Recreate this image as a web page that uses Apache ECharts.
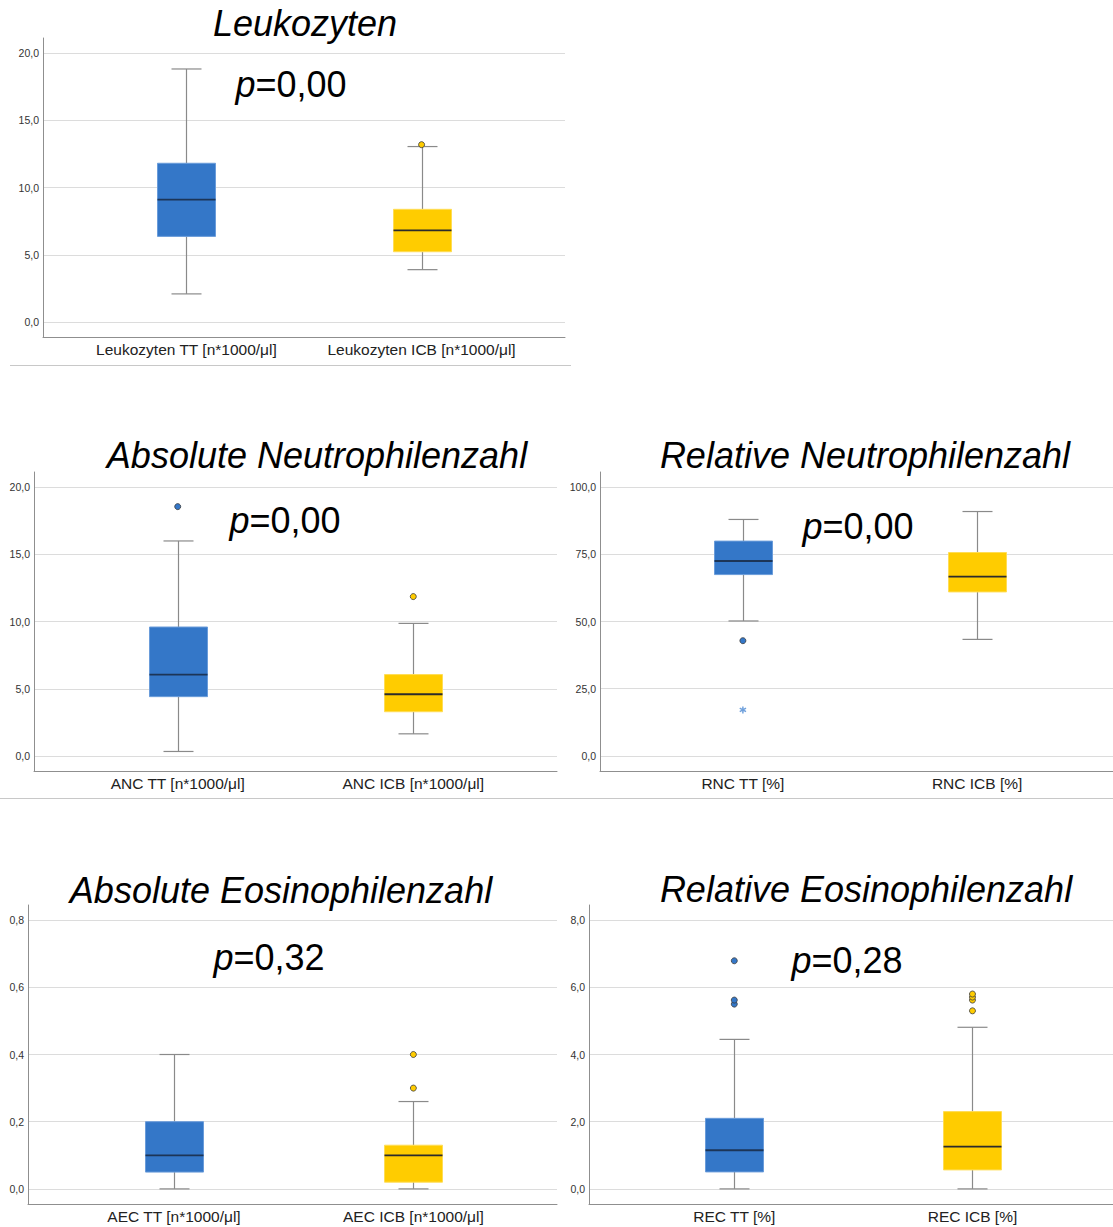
<!DOCTYPE html>
<html>
<head>
<meta charset="utf-8">
<script src="https://cdn.jsdelivr.net/npm/echarts@6/dist/echarts.min.js"></script>
<style>
  html, body { margin: 0; padding: 0; background: #fff; }
  #chart { width: 1113px; height: 1227px; }
</style>
</head>
<body>
<div id="chart"></div>
<script>
// ---------- DATA ----------
// box values: [lower whisker, Q1, median, Q3, upper whisker]
const leukoTitle = 'Leukozyten';
const leukoP = '0,00';
const leukoCats = ['Leukozyten TT [n*1000/μl]', 'Leukozyten ICB [n*1000/μl]'];
const leukoTT = [2.1, 6.37, 9.1, 11.8, 18.8];
const leukoICB = [3.9, 5.23, 6.82, 8.38, 13.04];
const leukoOutTT = [];
const leukoOutICB = [13.18];
const leukoTicks = [0, 5, 10, 15, 20];

const ancTitle = 'Absolute Neutrophilenzahl';
const ancP = '0,00';
const ancCats = ['ANC TT [n*1000/μl]', 'ANC ICB [n*1000/μl]'];
const ancTT = [0.35, 4.42, 6.06, 9.59, 15.98];
const ancICB = [1.66, 3.30, 4.60, 6.06, 9.86];
const ancOutTT = [18.53];
const ancOutICB = [11.85];
const ancTicks = [0, 5, 10, 15, 20];

const rncTitle = 'Relative Neutrophilenzahl';
const rncP = '0,00';
const rncCats = ['RNC TT [%]', 'RNC ICB [%]'];
const rncTT = [50.2, 67.45, 72.5, 79.9, 87.95];
const rncICB = [43.35, 61.0, 66.7, 75.65, 90.9];
const rncOutTT = [42.86];
const rncOutICB = [];
const rncExtremeTT = [17.1];
const rncTicks = [0, 25, 50, 75, 100];

const aecTitle = 'Absolute Eosinophilenzahl';
const aecP = '0,32';
const aecCats = ['AEC TT [n*1000/μl]', 'AEC ICB [n*1000/μl]'];
const aecTT = [0, 0.05, 0.10, 0.20, 0.40];
const aecICB = [0, 0.02, 0.10, 0.13, 0.26];
const aecOutTT = [];
const aecOutICB = [0.30, 0.40];
const aecTicks = [0, 0.2, 0.4, 0.6, 0.8];

const recTitle = 'Relative Eosinophilenzahl';
const recP = '0,28';
const recCats = ['REC TT [%]', 'REC ICB [%]'];
const recTT = [0, 0.505, 1.15, 2.10, 4.45];
const recICB = [0, 0.565, 1.26, 2.30, 4.81];
const recOutTT = [5.50, 5.62, 6.79];
const recOutICB = [5.30, 5.62, 5.71, 5.80];
const recTicks = [0, 2, 4, 6, 8];

// ---------- STYLE / LAYOUT ----------
const FONT = '"Liberation Sans", Arial, Helvetica, sans-serif';
const FILL = ['#3477C8', '#FFCC00'];
const EDGE = ['#6A9CDA', '#FFDD55'];
const MEDIAN = ['#1C3557', '#2b2b2b'];

const panels = [
  { title: leukoTitle, p: leukoP, cats: leukoCats, tt: leukoTT, icb: leukoICB, outTT: leukoOutTT, outICB: leukoOutICB, extTT: [], ticks: leukoTicks,
    left: 43, top: 38, width: 522, yMin: -1.1, yMax: 21.1, xMax: 1.61, titleX: 305, titleY: 23, pX: 291, pY: 84 },
  { title: ancTitle, p: ancP, cats: ancCats, tt: ancTT, icb: ancICB, outTT: ancOutTT, outICB: ancOutICB, extTT: [], ticks: ancTicks,
    left: 34, top: 472, width: 523, yMin: -1.1, yMax: 21.1, xMax: 1.61, titleX: 317, titleY: 455, pX: 285, pY: 520 },
  { title: rncTitle, p: rncP, cats: rncCats, tt: rncTT, icb: rncICB, outTT: rncOutTT, outICB: rncOutICB, extTT: rncExtremeTT, ticks: rncTicks,
    left: 600, top: 472, width: 513, yMin: -5.6, yMax: 105.6, xMax: 1.58, titleX: 865, titleY: 455, pX: 858, pY: 526 },
  { title: aecTitle, p: aecP, cats: aecCats, tt: aecTT, icb: aecICB, outTT: aecOutTT, outICB: aecOutICB, extTT: [], ticks: aecTicks,
    left: 28, top: 905, width: 529, yMin: -0.045, yMax: 0.845, xMax: 1.60, titleX: 281, titleY: 890, pX: 269, pY: 957 },
  { title: recTitle, p: recP, cats: recCats, tt: recTT, icb: recICB, outTT: recOutTT, outICB: recOutICB, extTT: [], ticks: recTicks,
    left: 589, top: 905, width: 524, yMin: -0.45, yMax: 8.45, xMax: 1.59, titleX: 866, titleY: 889, pX: 847, pY: 960 }
];
const GRID_H = 299;
const BOX_HALF = 29;
const CAP_HALF = 15;

const fmt = v => v.toFixed(1).replace('.', ',');

const ASTERISK = 'path://M-1,-5L1,-5L1,5L-1,5Z M3.83,-3.37L4.83,-1.63L-3.83,3.37L-4.83,1.63Z M4.83,1.63L3.83,3.37L-4.83,-1.63L-3.83,-3.37Z';

function renderBox(params, api) {
  const x = api.value(0);
  const lo = api.coord([x, api.value(1)]);
  const q1 = api.coord([x, api.value(2)]);
  const md = api.coord([x, api.value(3)]);
  const q3 = api.coord([x, api.value(4)]);
  const hi = api.coord([x, api.value(5)]);
  const cx = Math.round(lo[0]) + 0.5;
  const i = params.dataIndex;
  const wStyle = { stroke: '#8a8a8a', lineWidth: 1.2 };
  return {
    type: 'group',
    children: [
      { type: 'line', shape: { x1: cx, y1: lo[1], x2: cx, y2: q1[1] }, style: wStyle },
      { type: 'line', shape: { x1: cx, y1: q3[1], x2: cx, y2: hi[1] }, style: wStyle },
      { type: 'line', shape: { x1: cx - CAP_HALF, y1: lo[1], x2: cx + CAP_HALF, y2: lo[1] }, style: wStyle },
      { type: 'line', shape: { x1: cx - CAP_HALF, y1: hi[1], x2: cx + CAP_HALF, y2: hi[1] }, style: wStyle },
      { type: 'rect', shape: { x: cx - BOX_HALF, y: q3[1], width: BOX_HALF * 2, height: q1[1] - q3[1] },
        style: { fill: FILL[i], stroke: EDGE[i], lineWidth: 1 } },
      { type: 'line', shape: { x1: cx - BOX_HALF, y1: md[1], x2: cx + BOX_HALF, y2: md[1] },
        style: { stroke: MEDIAN[i], lineWidth: 1.8 } }
    ]
  };
}

const grids = [], xAxes = [], yAxes = [], series = [], graphics = [];

panels.forEach((p, k) => {
  grids.push({ left: p.left, top: p.top, width: p.width, height: GRID_H, outerBoundsMode: 'none', containLabel: false });
  xAxes.push({
    type: 'value', gridIndex: k, min: -0.61, max: p.xMax,
    axisLine: { show: true, onZero: false, lineStyle: { color: '#8f8f8f', width: 1 } },
    axisTick: { show: false },
    splitLine: { show: false },
    axisLabel: {
      customValues: [0, 1],
      formatter: v => p.cats[Math.round(v)],
      fontFamily: FONT, fontSize: 15.5, color: '#222', margin: 4
    }
  });
  yAxes.push({
    type: 'value', gridIndex: k, min: p.yMin, max: p.yMax,
    axisLine: { show: true, onZero: false, lineStyle: { color: '#8f8f8f', width: 1 } },
    axisTick: { show: false, customValues: p.ticks },
    axisLabel: { customValues: p.ticks, formatter: fmt, fontFamily: FONT, fontSize: 10.5, color: '#333', margin: 4 },
    splitLine: { show: true, lineStyle: { color: '#dcdcdc', width: 1 } }
  });
  series.push({
    type: 'custom', xAxisIndex: k, yAxisIndex: k, silent: true,
    renderItem: renderBox,
    encode: { x: 0, y: [1, 2, 3, 4, 5] },
    data: [[0].concat(p.tt), [1].concat(p.icb)],
    z: 2
  });
  const outData = p.outTT.map(v => ({ value: [0, v], itemStyle: { color: FILL[0] } }))
    .concat(p.outICB.map(v => ({ value: [1, v], itemStyle: { color: FILL[1] } })));
  if (outData.length) {
    series.push({
      type: 'scatter', xAxisIndex: k, yAxisIndex: k, silent: true, z: 3,
      symbol: 'circle', symbolSize: 6,
      itemStyle: { borderColor: '#3a3a3a', borderWidth: 0.8, opacity: 1 },
      data: outData
    });
  }
  if (p.extTT.length) {
    series.push({
      type: 'scatter', xAxisIndex: k, yAxisIndex: k, silent: true, z: 3,
      symbol: ASTERISK, symbolSize: 7,
      itemStyle: { color: '#6FA0DC', opacity: 1 },
      data: p.extTT.map(v => [0, v])
    });
  }
  graphics.push({
    type: 'text', x: p.titleX, y: p.titleY, silent: true,
    style: { text: p.title, fontFamily: FONT, fontSize: 36, fontStyle: 'italic', fill: '#000', align: 'center', verticalAlign: 'middle' }
  });
  graphics.push({
    type: 'text', x: p.pX, y: p.pY, silent: true,
    style: {
      text: '{i|p}=' + p.p, fontFamily: FONT, fontSize: 36, fill: '#000', align: 'center', verticalAlign: 'middle',
      rich: { i: { fontFamily: FONT, fontSize: 36, fontStyle: 'italic', fill: '#000' } }
    }
  });
});

// separator lines
graphics.push({ type: 'line', silent: true, shape: { x1: 10, y1: 365.5, x2: 571, y2: 365.5 }, style: { stroke: '#c8c8c8', lineWidth: 1 } });
graphics.push({ type: 'line', silent: true, shape: { x1: 0, y1: 798.5, x2: 1113, y2: 798.5 }, style: { stroke: '#c8c8c8', lineWidth: 1 } });

const chart = echarts.init(document.getElementById('chart'), null, { renderer: 'svg' });
chart.setOption({
  animation: false,
  backgroundColor: '#fff',
  grid: grids,
  xAxis: xAxes,
  yAxis: yAxes,
  series: series,
  graphic: graphics
});
</script>
</body>
</html>
